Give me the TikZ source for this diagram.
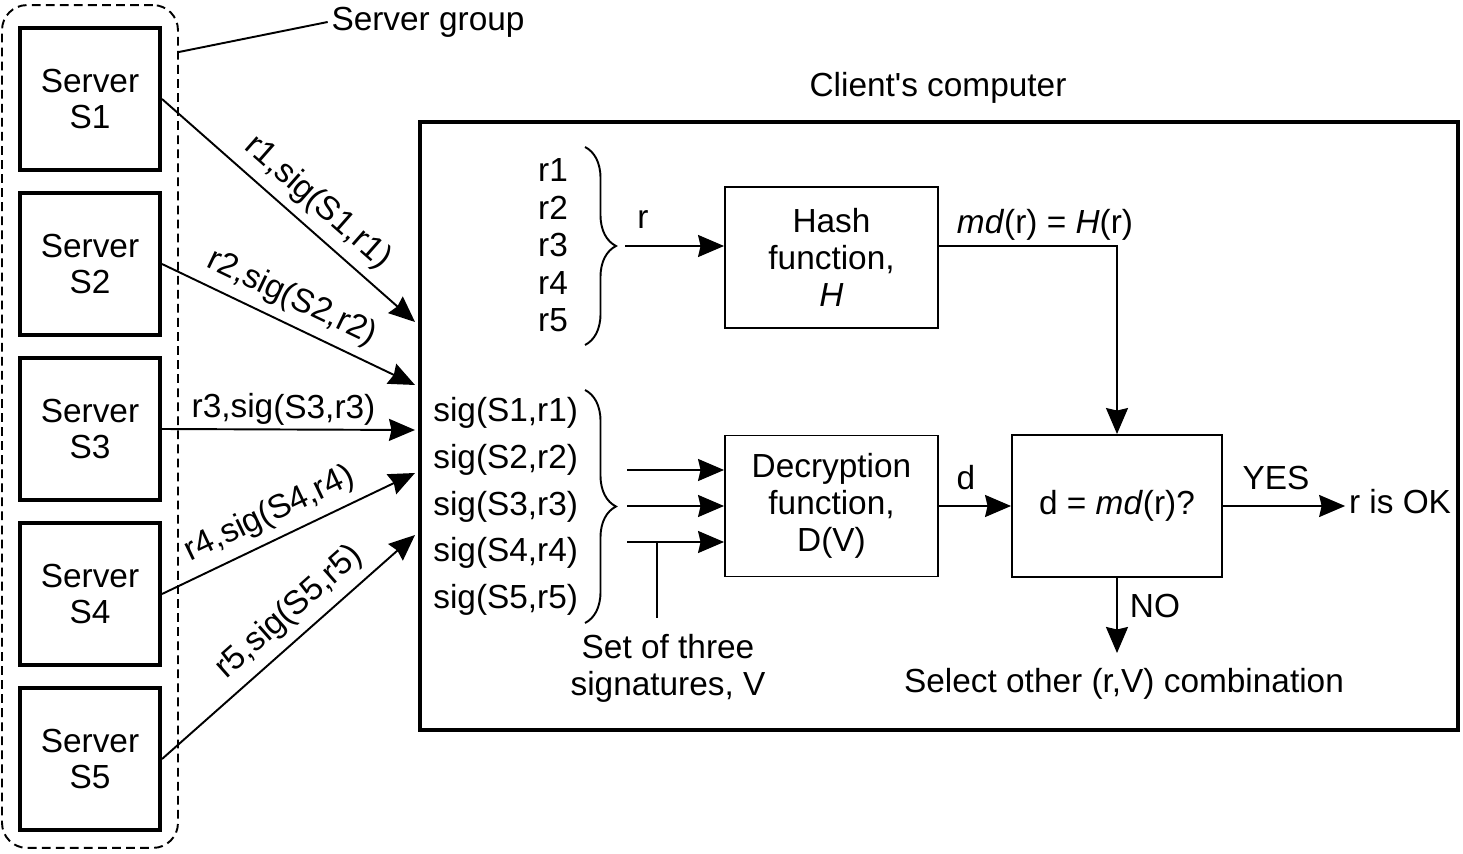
\documentclass[tikz,border=0pt]{standalone}
\usepackage{fontspec}
\setmainfont{Liberation Sans}
\usetikzlibrary{arrows.meta,decorations.pathreplacing}

\tikzset{
	server/.style={draw, line width=2.3pt, minimum width=2.8cm, minimum height=2.84cm, align=center},
	func/.style={draw, line width=1.1pt, minimum width=4.26cm, minimum height=2.82cm, align=center},
	conn/.style={line width=1.1pt, -{Stealth[length=0.52cm,width=0.44cm,inset=0.05cm]}},
	lbl/.style={inner sep=2pt},
	slbl/.style={inner sep=5pt, sloped, above},
	curly/.style={line width=1.1pt, decorate, decoration={brace, amplitude=0.62cm, aspect=0.5}}
}

\begin{document}
\begin{tikzpicture}[x=0.02cm, y=-0.02cm, font=\fontsize{19}{21}\selectfont]
	\useasboundingbox (0,0) rectangle (1463,854);

	\node[draw, dash pattern=on 5pt off 3pt, rounded corners=0.5cm, line width=1.1pt, minimum width=3.52cm, minimum height=16.86cm] (grp) at (90,426.5) {};
	\node[lbl] (grplabel) at (428,22) {Server group};
	\draw[line width=1.1pt] (grp.east |- 0,52) -- (grplabel.west);

	\node[server] (s1) at (90,99) {Server\\S1};
	\node[server] (s2) at (90,264) {Server\\S2};
	\node[server] (s3) at (90,429) {Server\\S3};
	\node[server] (s4) at (90,594) {Server\\S4};
	\node[server] (s5) at (90,759) {Server\\S5};

	\node[draw, line width=2.3pt, minimum width=20.76cm, minimum height=12.16cm] (client) at (939,426) {};
	\node[lbl] (clientlabel) at (938,88) {Client\textquotesingle s computer};

	\coordinate (in1) at (415,322);
	\coordinate (in2) at (415,385);
	\coordinate (in3) at (415,430);
	\coordinate (in4) at (415,473);
	\coordinate (in5) at (415,535);

	\draw[conn] (s1.east) -- node[slbl, pos=0.55] {r1,sig(S1,r1)} (in1);
	\draw[conn] (s2.east) -- node[slbl, pos=0.47] {r2,sig(S2,r2)} (in2);
	\draw[conn] (s3.east) -- node[lbl, sloped, above, pos=0.48] {r3,sig(S3,r3)} (in3);
	\draw[conn] (s4.east) -- node[slbl, pos=0.47] {r4,sig(S4,r4)} (in4);
	\draw[conn] (s5.east) -- node[slbl, pos=0.57] {r5,sig(S5,r5)} (in5);

	% values r
	\node[lbl] (r1) at (553,170) {r1};
	\node[lbl] (r2) at (553,208) {r2};
	\node[lbl] (r3) at (553,245) {r3};
	\node[lbl] (r4) at (553,283) {r4};
	\node[lbl] (r5) at (553,320) {r5};
	\draw[curly] (585,147) -- (585,345);

	\node[func] (hash) at (831.5,257.5) {Hash\\function,\\\textit{H}};
	\coordinate (rin) at (625,246);
	\draw[conn] (rin) -- (rin -| hash.west);
	\node[lbl] (rlabel) at (643,220) {r};

	% signatures
	\node[inner sep=0, anchor=west] (sg1) at (433,413) {sig(S1,r1)};
	\node[inner sep=0, anchor=west] (sg2) at (433,460) {sig(S2,r2)};
	\node[inner sep=0, anchor=west] (sg3) at (433,507) {sig(S3,r3)};
	\node[inner sep=0, anchor=west] (sg4) at (433,553) {sig(S4,r4)};
	\node[inner sep=0, anchor=west] (sg5) at (433,600) {sig(S5,r5)};
	\draw[curly] (585,390) -- (585,623);

	\node[func] (dec) at (831.5,506) {Decryption\\function,\\D(V)};
	\coordinate (v1) at (627,470);
	\coordinate (v2) at (627,506);
	\coordinate (v3) at (627,542);
	\draw[conn] (v1) -- (v1 -| dec.west);
	\draw[conn] (v2) -- (v2 -| dec.west);
	\draw[conn] (v3) -- (v3 -| dec.west);
	\coordinate (vtop) at (657,542);
	\coordinate (vbot) at (657,618);
	\draw[line width=1.1pt] (vtop) -- (vbot);
	\node[lbl, align=center] (setv) at (668,668) {Set of three\\signatures, V};

	\node[draw, line width=1.1pt, minimum width=4.2cm, minimum height=2.84cm] (cmp) at (1117,506) {d = \textit{md}(r)?};
	\draw[conn] (hash.east |- rin) -| (cmp.north);
	\node[lbl] (mdlabel) at (1045,225) {\textit{md}(r) = \textit{H}(r)};

	\draw[conn] (dec.east |- v2) -- (cmp.west |- v2);
	\node[lbl] (dlabel) at (966,478) {d};

	\node[lbl] (ok) at (1400,502) {r is OK};
	\draw[conn] (cmp.east) -- (ok.west |- cmp.east);
	\node[lbl] (yes) at (1276,478) {YES};

	\node[lbl] (sel) at (1124,684) {Select other (r,V) combination};
	\draw[conn] (cmp.south) -- (cmp.south |- 0,653);
	\node[lbl] (no) at (1155,606) {NO};
\end{tikzpicture}
\end{document}
